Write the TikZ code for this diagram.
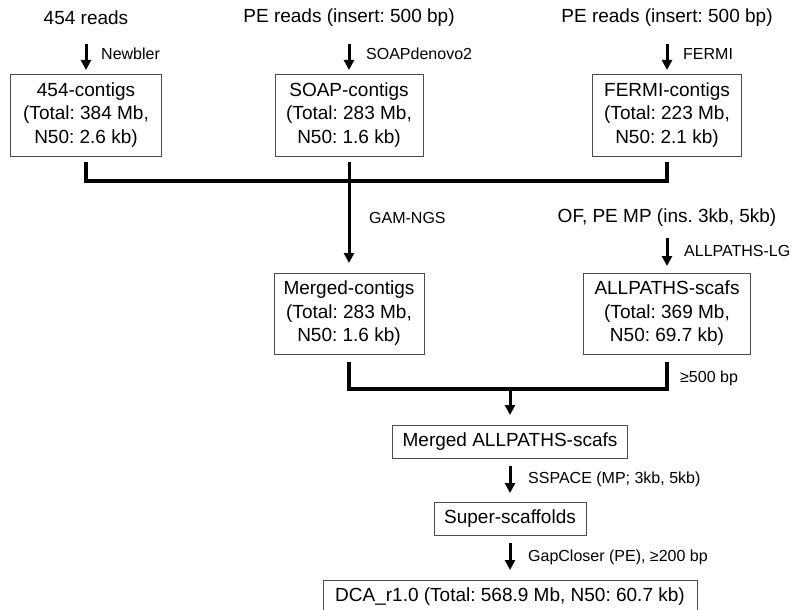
\documentclass[tikz,border=0pt]{standalone}
\usepackage{fontspec}
\setmainfont{Liberation Sans}
\usetikzlibrary{arrows.meta}
\frenchspacing
\begin{document}
\begin{tikzpicture}[x=1pt,y=-1pt,
  big/.style={font=\fontsize{19}{23.5}\selectfont, inner sep=0pt},
  small/.style={font=\fontsize{16}{19}\selectfont, inner sep=0pt, anchor=west},
  box/.style={draw=black!70, line width=0.9pt, font=\fontsize{19}{23.5}\selectfont, align=center, inner sep=0pt},
  arr/.style={line width=3pt, -{Triangle[length=10pt,width=10pt]}},
  busline/.style={line width=4pt, line join=miter, line cap=butt}]
\useasboundingbox (0,0) rectangle (795,610);

% top source texts
\node[big] (r454) at (86,18) {454 reads};
\node[big] (rsoap) at (349,18) {PE reads (insert: 500 bp)};
\node[big] (rfermi) at (667,18) {PE reads (insert: 500 bp)};

% boxes
\node[box, minimum width=151, minimum height=82] (n454) at (86,115) {454-contigs\\(Total: 384 Mb,\\N50: 2.6 kb)};
\node[box, minimum width=148, minimum height=82] (soap) at (349,115) {SOAP-contigs\\(Total: 283 Mb,\\N50: 1.6 kb)};
\node[box, minimum width=149, minimum height=82] (fermi) at (667,115) {FERMI-contigs\\(Total: 223 Mb,\\N50: 2.1 kb)};
\node[box, minimum width=150, minimum height=81] (merged) at (349,313.5) {Merged-contigs\\(Total: 283 Mb,\\N50: 1.6 kb)};
\node[box, minimum width=167, minimum height=81] (allp) at (667,313.5) {ALLPATHS-scafs\\(Total: 369 Mb,\\N50: 69.7 kb)};
\node[box, minimum width=235, minimum height=33] (mall) at (510,441.5) {Merged ALLPATHS-scafs};
\node[box, minimum width=152, minimum height=33] (sup) at (510,518.5) {Super-scaffolds};
\node[box, minimum width=374, minimum height=33] (dca) at (510,596.5) {DCA\_r1.0 (Total: 568.9 Mb, N50: 60.7 kb)};

\node[big] (of) at (667,218) {OF, PE MP (ins. 3kb, 5kb)};

% labels
\node[small] (lnew) at (101,54) {Newbler};
\node[small] (lsoap) at (366,54) {SOAPdenovo2};
\node[small] (lfermi) at (683,54) {FERMI};
\node[small] (lgam) at (369,218) {GAM-NGS};
\node[small] (lallp) at (684,251) {ALLPATHS-LG};
\node[small] (l500) at (680,378) {≥500 bp};
\node[small] (lss) at (528,479) {SSPACE (MP; 3kb, 5kb)};
\node[small] (lgap) at (528,557) {GapCloser (PE), ≥200 bp};

% top arrows
\draw[arr] (r454.south |- 0,44) -- (n454.north |- 0,70);
\draw[arr] (rsoap.south |- 0,44) -- (soap.north |- 0,70);
\draw[arr] (rfermi.south |- 0,44) -- (fermi.north |- 0,70);

% first bus
\coordinate (bus1) at (0,181);
\draw[busline] (n454.south |- 0,162) -- (n454.south |- bus1) -- (fermi.south |- bus1) -- (fermi.south |- 0,162);
\draw[arr] (soap.south |- 0,162) -- (merged.north |- 0,263);

% allpaths arrow
\draw[arr] (of.south |- 0,238) -- (allp.north |- 0,266);

% second bus
\coordinate (bus2) at (0,389);
\draw[busline] (merged.south |- 0,362) -- (merged.south |- bus2) -- (allp.south |- bus2) -- (allp.south |- 0,362);
\draw[arr] (mall.north |- bus2) -- (mall.north |- 0,415);

% lower arrows
\draw[arr] (mall.south |- 0,466) -- (sup.north |- 0,493);
\draw[arr] (sup.south |- 0,543) -- (dca.north |- 0,570);
\end{tikzpicture}
\end{document}
